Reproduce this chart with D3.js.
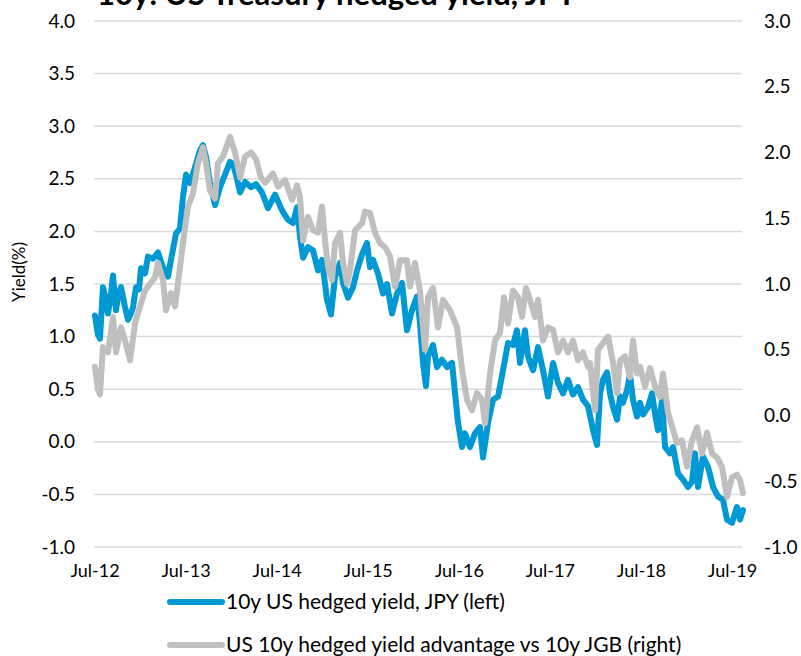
<!DOCTYPE html>
<html>
  <head>
    <meta charset="utf-8" />
    <title>10y: US Treasury hedged yield, JPY</title>
    <script src="https://d3js.org/d3.v7.min.js"></script>
    <style>
      body { margin: 0; background: #fff; }
      text { font-family: Lato, 'Open Sans', sans-serif; fill: #000; }
    </style>
  </head>
  <body>
    <script>
      // x values are decimal years (2012.5 = Jul-12)
      var blueYears = [
        2012.505, 2012.538, 2012.56, 2012.593, 2012.626, 2012.648, 2012.681, 2012.703, 2012.736, 2012.758,
        2012.791, 2012.835, 2012.868, 2012.901, 2012.923, 2012.956, 2012.989, 2013.011, 2013.055, 2013.087,
        2013.142, 2013.197, 2013.252, 2013.307, 2013.34, 2013.395, 2013.439, 2013.472, 2013.505, 2013.549,
        2013.604, 2013.658, 2013.691, 2013.724, 2013.768, 2013.823, 2013.878, 2013.933, 2013.988, 2014.021,
        2014.065, 2014.098, 2014.153, 2014.219, 2014.273, 2014.339, 2014.405, 2014.482, 2014.559, 2014.625,
        2014.68, 2014.724, 2014.757, 2014.79, 2014.844, 2014.899, 2014.954, 2014.998, 2015.053, 2015.097,
        2015.141, 2015.196, 2015.229, 2015.284, 2015.339, 2015.383, 2015.437, 2015.492, 2015.525, 2015.558,
        2015.613, 2015.668, 2015.712, 2015.767, 2015.822, 2015.877, 2015.931, 2015.986, 2016.041, 2016.074,
        2016.107, 2016.14, 2016.162, 2016.217, 2016.261, 2016.316, 2016.371, 2016.426, 2016.459, 2016.492,
        2016.536, 2016.568, 2016.623, 2016.678, 2016.733, 2016.766, 2016.821, 2016.876, 2016.931, 2016.986,
        2017.041, 2017.095, 2017.139, 2017.172, 2017.227, 2017.26, 2017.315, 2017.37, 2017.425, 2017.48,
        2017.535, 2017.59, 2017.645, 2017.699, 2017.754, 2017.809, 2017.864, 2017.919, 2017.974, 2018.018,
        2018.051, 2018.084, 2018.128, 2018.161, 2018.194, 2018.238, 2018.271, 2018.303, 2018.347, 2018.38,
        2018.413, 2018.457, 2018.49, 2018.523, 2018.578, 2018.622, 2018.655, 2018.688, 2018.732, 2018.765,
        2018.82, 2018.853, 2018.907, 2018.962, 2019.017, 2019.061, 2019.094, 2019.127, 2019.182, 2019.237,
        2019.292, 2019.347, 2019.401, 2019.445, 2019.5, 2019.555, 2019.588, 2019.621
      ];
      var blueValues = [
        1.2, 1.02, 0.98, 1.47, 1.35, 1.22, 1.4, 1.58, 1.25, 1.38,
        1.47, 1.28, 1.16, 1.22, 1.28, 1.47, 1.45, 1.65, 1.6, 1.76,
        1.74, 1.8, 1.66, 1.57, 1.73, 1.98, 2.03, 2.33, 2.54, 2.46,
        2.61, 2.77, 2.82, 2.71, 2.46, 2.25, 2.42, 2.54, 2.66, 2.64,
        2.5, 2.37, 2.47, 2.42, 2.45, 2.37, 2.22, 2.35, 2.2, 2.11,
        2.08, 2.23, 1.95, 1.75, 1.85, 1.82, 1.63, 1.73, 1.35, 1.21,
        1.57, 1.7, 1.51, 1.37, 1.47, 1.63, 1.78, 1.89, 1.66, 1.73,
        1.6, 1.41, 1.5, 1.22, 1.41, 1.51, 1.06, 1.25, 1.38, 1.13,
        0.75, 0.53, 0.81, 0.92, 0.71, 0.78, 0.71, 0.75, 0.46, 0.18,
        -0.05, 0.08, -0.05, 0.08, 0.14, -0.15, 0.18, 0.4, 0.43, 0.68,
        0.94, 0.92, 1.06, 0.75, 1.06, 0.81, 0.68, 0.9, 0.68, 0.43,
        0.75, 0.56, 0.46, 0.59, 0.45, 0.52, 0.4, 0.34, 0.11, -0.03,
        0.46, 0.59, 0.66, 0.46, 0.33, 0.21, 0.43, 0.37, 0.49, 0.64,
        0.4, 0.24, 0.37, 0.26, 0.33, 0.46, 0.27, 0.11, 0.4, -0.05,
        -0.11, -0.05, -0.3, -0.36, -0.43, -0.38, -0.11, -0.43, -0.14, -0.24,
        -0.43, -0.52, -0.55, -0.74, -0.77, -0.62, -0.74, -0.65
      ];

      var greyYears = [
        2012.505, 2012.538, 2012.56, 2012.593, 2012.648, 2012.703, 2012.736, 2012.791, 2012.835, 2012.89,
        2012.945, 2013.0, 2013.055, 2013.109, 2013.164, 2013.197, 2013.252, 2013.285, 2013.34, 2013.384,
        2013.439, 2013.494, 2013.527, 2013.582, 2013.637, 2013.691, 2013.724, 2013.768, 2013.823, 2013.856,
        2013.911, 2013.988, 2014.043, 2014.098, 2014.153, 2014.219, 2014.273, 2014.328, 2014.372, 2014.46,
        2014.515, 2014.592, 2014.669, 2014.724, 2014.757, 2014.79, 2014.844, 2014.899, 2014.954, 2014.998,
        2015.031, 2015.064, 2015.108, 2015.141, 2015.196, 2015.229, 2015.273, 2015.306, 2015.361, 2015.437,
        2015.47, 2015.525, 2015.58, 2015.635, 2015.69, 2015.745, 2015.8, 2015.855, 2015.931, 2015.965,
        2016.019, 2016.074, 2016.129, 2016.162, 2016.217, 2016.272, 2016.327, 2016.404, 2016.481, 2016.536,
        2016.59, 2016.645, 2016.7, 2016.755, 2016.788, 2016.843, 2016.898, 2016.953, 2016.997, 2017.041,
        2017.095, 2017.15, 2017.194, 2017.238, 2017.282, 2017.337, 2017.37, 2017.425, 2017.48, 2017.535,
        2017.59, 2017.645, 2017.699, 2017.754, 2017.809, 2017.864, 2017.919, 2017.941, 2017.996, 2018.029,
        2018.084, 2018.139, 2018.194, 2018.238, 2018.271, 2018.325, 2018.38, 2018.413, 2018.457, 2018.49,
        2018.545, 2018.6, 2018.655, 2018.71, 2018.743, 2018.798, 2018.853, 2018.896, 2018.951, 2019.006,
        2019.061, 2019.116, 2019.171, 2019.226, 2019.281, 2019.336, 2019.39, 2019.445, 2019.5, 2019.555,
        2019.588, 2019.621
      ];
      var greyValues = [
        0.37, 0.2, 0.16, 0.52, 0.48, 0.75, 0.48, 0.67, 0.57, 0.42,
        0.7, 0.83, 0.95, 1.0, 1.05, 1.16, 1.03, 0.8, 0.93, 0.83,
        1.13, 1.43, 1.59, 1.69, 1.92, 2.04, 1.92, 1.71, 1.65, 1.92,
        1.97, 2.12, 2.0, 1.81, 1.97, 2.0, 1.95, 1.81, 1.77, 1.84,
        1.74, 1.79, 1.64, 1.75, 1.66, 1.33, 1.51, 1.41, 1.39, 1.59,
        1.33, 1.13, 1.03, 1.31, 1.39, 1.16, 1.0, 1.11, 1.41, 1.46,
        1.55, 1.54, 1.39, 1.31, 1.28, 1.21, 0.98, 1.18, 1.18, 0.98,
        1.16, 0.95, 0.5, 0.9, 0.97, 0.67, 0.88, 0.8, 0.67, 0.35,
        0.12, 0.04, 0.17, 0.12, -0.06, 0.32, 0.57, 0.63, 0.9, 0.7,
        0.95, 0.9, 0.75, 0.97, 0.88, 0.75, 0.88, 0.57, 0.67, 0.65,
        0.48, 0.57, 0.48, 0.57, 0.42, 0.48, 0.37, 0.4, 0.04, 0.5,
        0.55, 0.6, 0.4, 0.17, 0.42, 0.45, 0.29, 0.57, 0.32, 0.37,
        0.22, 0.36, 0.22, 0.14, 0.32, 0.02, -0.11, -0.21, -0.19, -0.39,
        -0.19, -0.09, -0.29, -0.13, -0.29, -0.32, -0.39, -0.62, -0.47, -0.45,
        -0.49, -0.59
      ];

      var xTickYears = [2012.5, 2013.5, 2014.5, 2015.5, 2016.5, 2017.5, 2018.5, 2019.5];
      var xTickLabels = ['Jul-12', 'Jul-13', 'Jul-14', 'Jul-15', 'Jul-16', 'Jul-17', 'Jul-18', 'Jul-19'];
      var leftTicks = [-1, -0.5, 0, 0.5, 1, 1.5, 2, 2.5, 3, 3.5, 4];
      var leftTickLabels = ['-1.0', '-0.5', '0.0', '0.5', '1.0', '1.5', '2.0', '2.5', '3.0', '3.5', '4.0'];
      var rightTicks = [-1, -0.5, 0, 0.5, 1, 1.5, 2, 2.5, 3];
      var rightTickLabels = ['-1.0', '-0.5', '0.0', '0.5', '1.0', '1.5', '2.0', '2.5', '3.0'];
      var seriesNames = ['10y US hedged yield, JPY (left)', 'US 10y hedged yield advantage vs 10y JGB (right)'];

      (function () {
        const W = 801, H = 656;
        const plotLeft = 94, plotRight = 742, plotTop = 21, plotBottom = 547;
        const blue = '#0099d4', grey = '#bfbfbf';

        const svg = d3.select('body').append('svg').attr('width', W).attr('height', H);

        const x = d3.scaleLinear().domain([2012.5, 2019.61]).range([94.5, plotRight]);
        const yL = d3.scaleLinear().domain([-1, 4]).range([plotBottom, plotTop]);
        const yR = d3.scaleLinear().domain([-1, 3]).range([plotBottom, plotTop]);

        // gridlines
        svg.append('g')
          .selectAll('line')
          .data(leftTicks)
          .enter()
          .append('line')
          .attr('x1', plotLeft)
          .attr('x2', plotRight)
          .attr('y1', (d) => yL(d))
          .attr('y2', (d) => yL(d))
          .attr('stroke', '#d9d9d9')
          .attr('stroke-width', 1.5);

        const gl = svg.append('g')
          .attr('transform', 'translate(' + plotLeft + ',0)')
          .call(d3.axisLeft(yL).tickValues(leftTicks).tickSize(0).tickPadding(19)
            .tickFormat((d, i) => leftTickLabels[i]));
        gl.select('.domain').remove();
        gl.selectAll('text').style('font-size', '19px').style('font-family', 'Lato');

        const gr = svg.append('g')
          .attr('transform', 'translate(' + plotRight + ',0)')
          .call(d3.axisRight(yR).tickValues(rightTicks).tickSize(0).tickPadding(22)
            .tickFormat((d, i) => rightTickLabels[i]));
        gr.select('.domain').remove();
        gr.selectAll('text').style('font-size', '19px').style('font-family', 'Lato');

        const gx = svg.append('g')
          .attr('transform', 'translate(0,' + plotBottom + ')')
          .call(d3.axisBottom(x).tickValues(xTickYears).tickSize(0).tickPadding(17)
            .tickFormat((d, i) => xTickLabels[i]));
        gx.select('.domain').remove();
        gx.selectAll('text').style('font-size', '18px').style('font-family', 'Lato');

        const blueData = blueYears.map((t, i) => [t, blueValues[i]]);
        const greyData = greyYears.map((t, i) => [t, greyValues[i]]);

        svg.append('path')
          .datum(blueData)
          .attr('fill', 'none')
          .attr('stroke', blue)
          .attr('stroke-width', 6)
          .attr('stroke-linejoin', 'round')
          .attr('stroke-linecap', 'round')
          .attr('d', d3.line().x((d) => x(d[0])).y((d) => yL(d[1])));

        svg.append('path')
          .datum(greyData)
          .attr('fill', 'none')
          .attr('stroke', grey)
          .attr('stroke-width', 6)
          .attr('stroke-linejoin', 'round')
          .attr('stroke-linecap', 'round')
          .attr('d', d3.line().x((d) => x(d[0])).y((d) => yR(d[1])));

        // title (cut off at top in the original)
        svg.append('text')
          .attr('x', 97)
          .attr('y', 5)
          .style('font-size', '31px')
          .style('font-weight', 'bold')
          .text('10y: US Treasury hedged yield, JPY');

        svg.append('text')
          .attr('transform', 'translate(25,272) rotate(-90)')
          .attr('text-anchor', 'middle')
          .style('font-size', '17px')
          .text('Yield(%)');

        // legend
        const legendY = [602, 645];
        const legendColors = [blue, grey];
        seriesNames.forEach(function (name, i) {
          svg.append('line')
            .attr('x1', 170).attr('x2', 222)
            .attr('y1', legendY[i]).attr('y2', legendY[i])
            .attr('stroke', legendColors[i])
            .attr('stroke-width', 6)
            .attr('stroke-linecap', 'round');
          svg.append('text')
            .attr('x', 226)
            .attr('y', legendY[i] + 7)
            .style('font-size', '21px')
            .text(name);
        });
      })();
    </script>
  </body>
</html>
